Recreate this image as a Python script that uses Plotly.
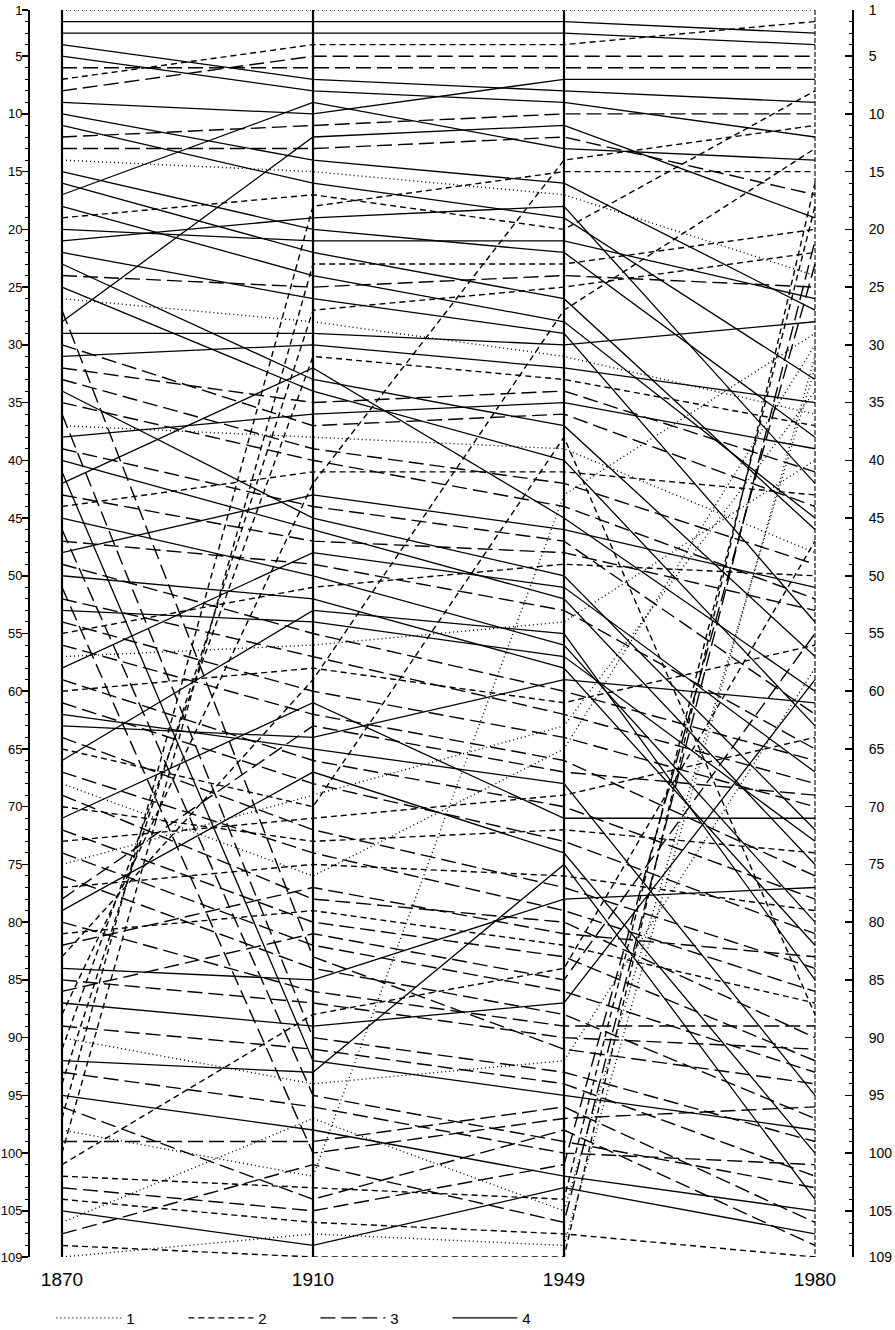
import plotly.graph_objects as go

years = ["1870", "1910", "1949", "1980"]
rank_ticks = [1, 5, 10, 15, 20, 25, 30, 35, 40, 45, 50, 55, 60, 65, 70, 75,
              80, 85, 90, 95, 100, 105, 109]

# category of each item (1 = dotted, 2 = dashed, 3 = long dashed, 4 = solid)
category = [1, 4, 4, 4, 4, 3, 2, 3, 4, 4, 4, 3, 3, 1, 4, 4, 4, 4, 2, 4,
            4, 4, 4, 3, 4, 1, 3, 4, 4, 3, 4, 3, 3, 4, 3, 3, 1, 4, 3, 4,
            4, 4, 3, 2, 4, 3, 3, 4, 3, 4, 3, 3, 4, 3, 2, 3, 1, 4, 3, 2,
            3, 4, 4, 3, 2, 4, 3, 1, 3, 2, 4, 3, 2, 3, 1, 3, 2, 3, 4, 3,
            2, 3, 2, 4, 3, 3, 4, 2, 3, 1, 2, 4, 3, 2, 4, 3, 2, 1, 3, 2,
            2, 2, 3, 2, 4, 1, 3, 2, 1]

rank_1870 = list(range(1, 110))

rank_1910 = [1, 2, 3, 7, 8, 6, 4, 5, 10, 14, 16, 11, 13, 15, 20, 22, 9, 24, 17, 21,
             19, 26, 33, 25, 34, 28, 83, 12, 29, 37, 30, 35, 39, 45, 40, 90, 38, 36, 44, 46,
             92, 32, 47, 41, 50, 95, 49, 43, 55, 52, 100, 57, 54, 60, 51, 62, 56, 48, 66, 58,
             68, 65, 64, 72, 70, 53, 74, 76, 78, 73, 61, 80, 71, 82, 69, 84, 75, 63, 67, 86,
             79, 77, 59, 85, 87, 81, 89, 42, 91, 94, 31, 93, 96, 27, 98, 104, 18, 102, 99, 23,
             88, 103, 105, 106, 108, 97, 101, 109, 107]

rank_1949 = [1, 2, 3, 8, 9, 6, 4, 5, 7, 16, 19, 10, 12, 17, 22, 26, 13, 28, 20, 21,
             18, 29, 37, 24, 40, 31, 91, 11, 30, 36, 32, 34, 42, 50, 44, 93, 39, 35, 47, 52,
             95, 45, 48, 41, 56, 99, 53, 46, 60, 58, 97, 62, 57, 64, 49, 66, 54, 51, 70, 61,
             73, 68, 59, 77, 38, 55, 79, 65, 80, 72, 71, 83, 69, 86, 63, 88, 76, 67, 74, 89,
             82, 81, 27, 78, 90, 85, 87, 14, 94, 92, 33, 75, 100, 25, 102, 98, 15, 43, 96, 23,
             84, 104, 101, 107, 103, 105, 106, 109, 108]

rank_1980 = [1, 3, 4, 9, 12, 6, 2, 5, 7, 27, 33, 10, 17, 24, 38, 46, 14, 45, 8, 26,
             42, 54, 57, 25, 63, 36, 94, 19, 28, 44, 35, 41, 49, 72, 52, 99, 48, 39, 62, 75,
             98, 60, 53, 43, 80, 103, 65, 51, 66, 82, 96, 68, 73, 70, 50, 76, 40, 67, 78, 56,
             81, 95, 61, 84, 88, 85, 86, 30, 90, 74, 71, 92, 64, 93, 34, 97, 79, 69, 100, 89,
             87, 83, 13, 77, 91, 55, 59, 11, 102, 58, 37, 104, 101, 22, 105, 108, 15, 29, 106, 20,
             47, 18, 23, 109, 107, 32, 21, 16, 31]

dash_of = {1: "1px,3px", 2: "6px,4px", 3: "15px,6px", 4: "solid"}
width_of = {1: 1.4, 2: 1.4, 3: 1.4, 4: 1.3}
xpos = [0, 1, 2, 3]

FONT = "Liberation Sans, Arial, sans-serif"

fig = go.Figure()

shown = set()
for i in range(len(category)):
    c = category[i]
    fig.add_trace(go.Scatter(
        x=xpos,
        y=[rank_1870[i], rank_1910[i], rank_1949[i], rank_1980[i]],
        mode="lines",
        line=dict(color="black", width=width_of[c], dash=dash_of[c]),
        name=str(c),
        legendgroup=str(c),
        legendrank=c,
        showlegend=c not in shown,
        hoverinfo="skip",
    ))
    shown.add(c)

# invisible trace so that the right-hand rank axis is drawn
fig.add_trace(go.Scatter(x=[0], y=[1], yaxis="y2", mode="markers",
                         marker=dict(opacity=0), showlegend=False, hoverinfo="skip"))

# the four year axes
for k in range(3):
    fig.add_shape(type="line", xref="x", yref="y", x0=xpos[k], x1=xpos[k], y0=1, y1=109,
                  line=dict(color="black", width=2.2), layer="above")
fig.add_shape(type="line", xref="x", yref="y", x0=xpos[3], x1=xpos[3], y0=1, y1=109,
              line=dict(color="black", width=1.1, dash="5px,2px"), layer="above")

fig.update_layout(
    width=895, height=1330,
    margin=dict(l=30, r=43, t=10, b=73, autoexpand=False),
    plot_bgcolor="white", paper_bgcolor="white",
    font=dict(family=FONT, color="black"),
    xaxis=dict(range=[-0.1275, 3.1474], tickvals=xpos, ticktext=years,
               showgrid=False, zeroline=False, showline=False, ticks="",
               automargin=False,
               tickfont=dict(size=19, family=FONT), ticklabelstandoff=9),
    yaxis=dict(range=[109, 1], tickvals=rank_ticks, ticks="outside", ticklen=6,
               tickwidth=1.5, tickcolor="black", showline=True, linewidth=2,
               linecolor="black", showgrid=False, zeroline=False, automargin=False,
               tickfont=dict(size=13, family=FONT), ticklabelstandoff=-3,
               minor=dict(tickvals=list(range(1, 110)), ticks="outside",
                          ticklen=3, tickcolor="black", tickwidth=1)),
    yaxis2=dict(range=[109, 1], overlaying="y", side="right", tickvals=rank_ticks,
                ticks="inside", ticklen=7, tickwidth=1.5, tickcolor="black",
                showline=True, linewidth=2, linecolor="black", showgrid=False,
                zeroline=False, automargin=False, tickfont=dict(size=14, family=FONT),
                ticklabelstandoff=12,
                minor=dict(tickvals=list(range(1, 110)), ticks="inside",
                           ticklen=3, tickcolor="black", tickwidth=1)),
    legend=dict(orientation="h", x=0.026, y=-0.049, xanchor="left", yanchor="middle",
                font=dict(size=15, family=FONT), entrywidth=52, itemwidth=65,
                bgcolor="rgba(0,0,0,0)", traceorder="normal"),
)

# remove the browser's default page margin so the figure fills the window exactly
fig.write_html(
    "out.html",
    config={"displayModeBar": False, "staticPlot": True},
    post_script="document.body.style.margin='0';document.body.style.padding='0';"
                "document.documentElement.style.overflow='hidden';",
)
